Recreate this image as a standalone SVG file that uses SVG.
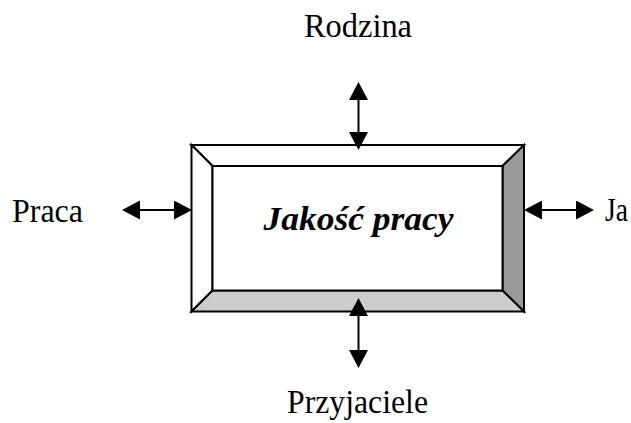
<svg xmlns="http://www.w3.org/2000/svg" width="631" height="423" viewBox="0 0 631 423">
  <style>
    .lbl { font-family: "Liberation Serif", serif; font-size: 33px; fill: #000; }
    .title { font-family: "Liberation Serif", serif; font-size: 33px; font-weight: bold; font-style: italic; fill: #000; }
    .edge { stroke: #000; stroke-width: 2; fill: none; marker-start: url(#ah); marker-end: url(#ah); }
    .bev { stroke: #000; stroke-width: 2; stroke-linejoin: miter; }
  </style>
  <defs>
    <marker id="ah" viewBox="0 0 18 19" markerUnits="userSpaceOnUse" markerWidth="18" markerHeight="19" refX="8" refY="9.5" orient="auto-start-reverse">
      <path d="M0,0 L18,9.5 L0,19 Z" fill="#000"/>
    </marker>
  </defs>
  <rect width="631" height="423" fill="#fff"/>

  <g id="node-jakosc">
    <polygon class="bev" points="191.5,145 524,145 502.5,166 212.5,166" fill="#fff"/>
    <polygon class="bev" points="191.5,145 212.5,166 212.5,290.5 191.5,311.5" fill="#fff"/>
    <polygon class="bev" points="524,145 524,311.5 502.5,290.5 502.5,166" fill="#999999"/>
    <polygon class="bev" points="191.5,311.5 212.5,290.5 502.5,290.5 524,311.5" fill="#cccccc"/>
    <rect class="bev" x="212.5" y="166" width="290" height="124.5" fill="#fff"/>
    <text class="title" x="263.5" y="230" textLength="190" lengthAdjust="spacingAndGlyphs">Jakość pracy</text>
  </g>

  <g id="node-rodzina">
    <text class="lbl" x="304" y="37" textLength="108" lengthAdjust="spacingAndGlyphs">Rodzina</text>
  </g>
  <g id="node-praca">
    <text class="lbl" x="12" y="222" textLength="71" lengthAdjust="spacingAndGlyphs">Praca</text>
  </g>
  <g id="node-ja">
    <text class="lbl" x="605" y="221" textLength="23" lengthAdjust="spacingAndGlyphs">Ja</text>
  </g>
  <g id="node-przyjaciele">
    <text class="lbl" x="287" y="413" textLength="141" lengthAdjust="spacingAndGlyphs">Przyjaciele</text>
  </g>

  <g id="connectors">
    <line class="edge" x1="358.5" y1="92" x2="358.5" y2="140"/>
    <line class="edge" x1="358.5" y1="308" x2="358.5" y2="358"/>
    <line class="edge" x1="132" y1="210" x2="182" y2="210"/>
    <line class="edge" x1="534" y1="210" x2="584" y2="210"/>
  </g>
</svg>
